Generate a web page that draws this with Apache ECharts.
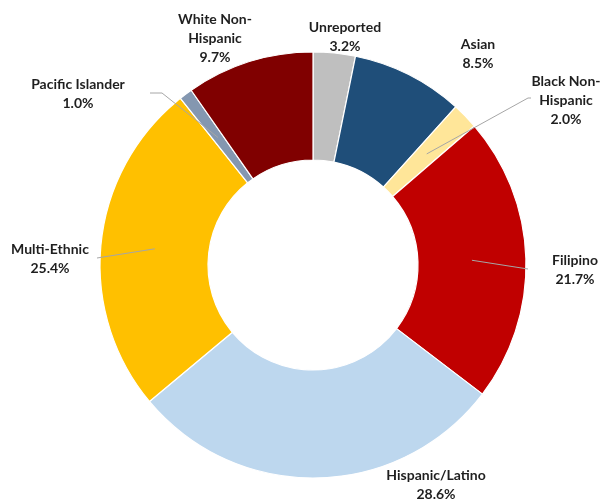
<!DOCTYPE html>
<html>
<head>
<meta charset="utf-8">
<script src="https://cdn.jsdelivr.net/npm/echarts@6/dist/echarts.min.js"></script>
<style>html,body{margin:0;padding:0;background:#fff;}#c{width:604px;height:501px;}</style>
</head>
<body>
<div id="c"></div>
<script>
const categories = ['Unreported', 'Asian', 'Black Non-Hispanic', 'Filipino', 'Hispanic/Latino', 'Multi-Ethnic', 'Pacific Islander', 'White Non-Hispanic'];
const labelNames = ['Unreported', 'Asian', 'Black Non-\nHispanic', 'Filipino', 'Hispanic/Latino', 'Multi-Ethnic', 'Pacific Islander', 'White Non-\nHispanic'];
const percents = [3.2, 8.5, 2.0, 21.7, 28.6, 25.4, 1.0, 9.7];
const colors = ['#BFBFBF', '#1F4E79', '#FFE699', '#C00000', '#BDD7EE', '#FFC000', '#8497B0', '#800000'];

// layout (pixels)
const CX = 313, CY = 265, R0 = 105, R1 = 213;
const labelPos = [[345, 37], [478, 54], [566, 100], [575, 270], [436, 485], [50, 259], [78, 94], [215, 38]];
const leaderTail = [null, null, [[528, 98], [531, 98]], [[528, 269]], null, [[97, 258]], [[162, 93], [150, 93]], null];

const total = percents.reduce((a, b) => a + b, 0);
const anchors = [];
let cum = 0;
percents.forEach(v => {
  const mid = (cum + v / 2) / total * Math.PI * 2;
  const rm = (R0 + R1) / 2;
  anchors.push([CX + rm * Math.sin(mid), CY - rm * Math.cos(mid)]);
  cum += v;
});

const leaderGraphics = [];
leaderTail.forEach((tail, i) => {
  if (!tail) return;
  leaderGraphics.push({
    type: 'polyline',
    z: 100,
    silent: true,
    shape: { points: [anchors[i]].concat(tail) },
    style: { stroke: '#A6A6A6', lineWidth: 1, fill: null }
  });
});

const chart = echarts.init(document.getElementById('c'));
chart.setOption({
  animation: false,
  graphic: leaderGraphics,
  series: [{
    type: 'pie',
    center: [CX, CY],
    radius: [R0, R1],
    startAngle: 90,
    clockwise: true,
    avoidLabelOverlap: false,
    itemStyle: { borderColor: '#ffffff', borderWidth: 1.2 },
    label: {
      show: true,
      position: 'outside',
      fontFamily: 'Lato',
      fontWeight: 'bold',
      fontSize: 14,
      lineHeight: 19,
      color: '#1f1f1f',
      align: 'center',
      formatter: p => labelNames[p.dataIndex] + '\n' + percents[p.dataIndex].toFixed(1) + '%'
    },
    labelLine: { show: false },
    labelLayout: function (params) {
      const i = params.dataIndex;
      return { x: labelPos[i][0], y: labelPos[i][1], align: 'center', verticalAlign: 'middle' };
    },
    data: categories.map((c, i) => ({
      name: c,
      value: percents[i],
      itemStyle: { color: colors[i] }
    }))
  }]
});
</script>
</body>
</html>
